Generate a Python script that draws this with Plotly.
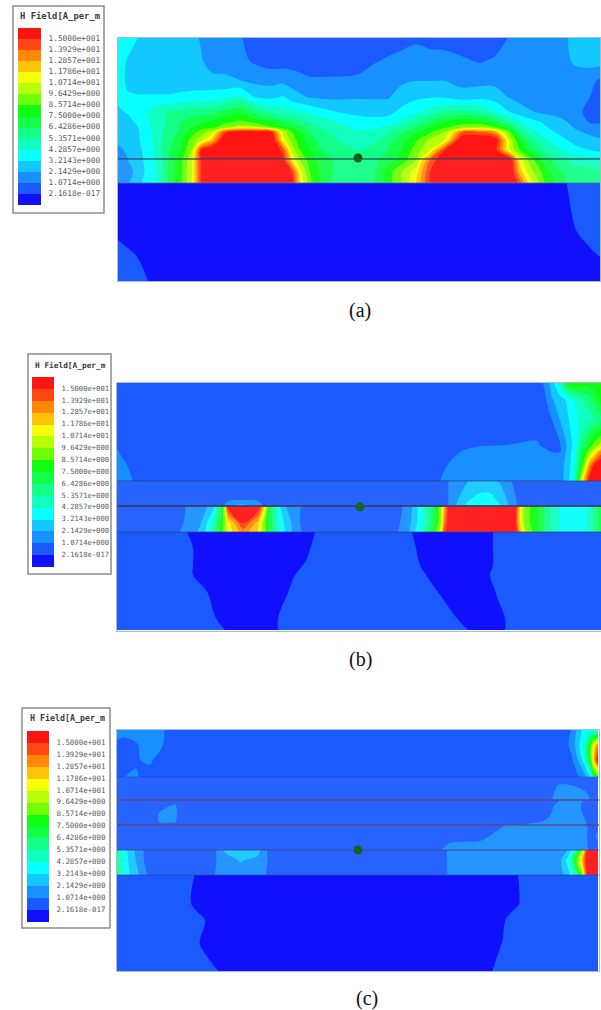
import plotly.graph_objects as go

W, H = 601, 1010

band_colors = ["#1010ff", "#1a5aff", "#1890ff", "#12c8ff", "#08ffff", "#10ffc0", "#14ff88", "#14ff48",
               "#10ff10", "#70ff08", "#b8ff08", "#f4ff08", "#ffc408", "#ff8808", "#ff4810", "#ff1414"]
band_ids = list(range(16))
legend_labels = ["1.5000e+001", "1.3929e+001", "1.2857e+001", "1.1786e+001", "1.0714e+001", "9.6429e+000",
                 "8.5714e+000", "7.5000e+000", "6.4286e+000", "5.3571e+000", "4.2857e+000", "3.2143e+000",
                 "2.1429e+000", "1.0714e+000", "2.1618e-017"]
legend_title = "H Field[A_per_m"
captions = ["(a)", "(b)", "(c)"]

# ---------- panel (a), z in colour-band units
ax1_x = [118,128,138,147,158,170,180,192,201,212,225,240,255,272,283,292,300,310,322,337,358,375,388,402,416,430,445,462,480,495,510,520,530,545,560,575,590,600]
ax1_y = [38,60,80,97,112,122,127,132,140,150,160,172,183]
ax1_z = [
 [4,4,3.5,3,3,3,3,2.8,2.4,2,2,1.6,1,1,1,1,1,1,1,1,1,1,1,1,1.3,1,1,1,1,1,1.6,2,2,2,2,3,3,3],
 [4,3.4,3,3,3,3,3,3,2.6,2,2,1.8,1.3,1,1,1,1,1,1,1,1,1.4,1.6,1.9,2,2,1.9,1.6,1.4,1.6,2,2,2,2,2,2.7,3,3],
 [4,3.3,3,3,3,3,3,3,2.9,2.8,2.7,2.5,2.2,2.1,2.2,2,1.8,1.6,1.6,1.6,1.7,2,2.1,2.3,2.45,2.45,2.45,2.1,2.1,2.2,2,2,2,2,2,2,1.7,1.4],
 [3.8,3.6,3.6,3.6,3.6,3.6,3.7,3.8,3.9,4,4.2,4.7,3.5,3.3,3.6,3,2.7,2.4,2.3,2.3,2.4,2.4,2.4,3,3.3,3.4,3.4,3,3.2,3,2.4,2.1,2,2,2,2,1.5,1.5],
 [3.3,3.6,4,4.5,5.2,5.6,5.8,6,6.1,6.2,6.8,7.3,6.2,5.2,5,4.8,4.6,4.3,3.9,3.5,3.2,3.1,3.2,3.8,4.3,4.9,5.6,5.8,5.5,4.6,3.5,3,2.6,2.3,2.1,1.7,1.3,1.2],
 [3,3.2,3.7,4.3,5,5.8,6.4,6.9,7.3,7.8,8.3,8.7,8.3,7.5,6.8,6.4,6,5.4,5,4.5,4,3.9,4,4.7,5.6,6.6,7.6,8.1,7.8,7,5.5,4.6,4,3.3,2.8,2.2,1.4,1.4],
 [3,3.2,3.5,4.2,5.05,5.9,6.5,7.4,7.9,8.2,9,10,9.8,8.6,7.8,7.2,6.7,5.9,5.3,4.8,4.3,4.3,4.7,5.5,6.4,7.4,8.3,9,9.5,8.5,6.8,5.2,4.5,3.6,3,2.4,1.8,1.8],
 [3,3.2,3.4,4.1,5.1,6,6.7,8,9,10,14.3,15.5,15.5,14.6,10,8.5,7.5,6.5,5.7,5.1,4.6,4.8,5.4,6.3,7.3,8.3,9.5,13.5,13.5,12.5,8.5,6,5,4,3.2,2.7,2.3,2.2],
 [2.9,3,3.4,4,5,6.3,7.2,9,10,12,16,16,16,15.6,11,9,8,7,6,5.5,5,5.3,6,7,8.3,9.7,10.5,15.8,16,15.6,10,7.5,6,4.7,4,3,2.8,2.6],
 [2.1,2.8,3.2,3.9,5,6.5,7.5,9.5,14.6,16,16,16,16,16,14,10,8.5,7.5,6.5,6,5.5,5.8,6.5,7.5,9,10.5,14.5,16,16,15,10.5,8.5,7,5.5,4.6,4,3.5,3.2],
 [2,2.5,3.1,3.8,4.9,6.8,8,10.5,14.6,16,16,16,16,16,15,11.5,9.5,8,7,6.3,6,6.2,7,8,9.5,13.5,16,16,16,16,15.5,11,9,7,5.8,5.1,5,4.9],
 [2,2,3,3.7,4.6,7,8,10.5,14.6,16,16,16,16,16,16,14.5,11,8.5,7.2,6.2,6,6.5,8,9.5,11,14.5,16,16,16,16,16,12,10,8,6.6,6,5.8,5.6],
 [2.2,2.4,3.2,3.9,4.8,7,8.2,10.5,14.6,16,16,16,16,16,16,15,11.5,8.8,7.4,6.1,6,6.5,8,9.5,11.5,14.6,16,16,16,16,16,14,11,8.5,7,6,5.8,5.6],
]
ax2_x = [118,130,148,560,568,576,590,600]
ax2_y = [183,230,240,250,257,281]
ax2_z = [
 [0,0,0,0,0.6,1,1,1],
 [0,0,0,0,0,0.5,1,1],
 [0.5,0,0,0,0,0.2,0.8,1],
 [1,0.5,0,0,0,0,0.4,0.9],
 [1,0.7,0.2,0,0,0,0.2,0.5],
 [1,1,0.5,0,0,0,0,0],
]

# ---------- panel (b)
bx1_x = [117,125,133,420,440,460,477,537,545,552,560,568,575,582,590,595,601]
bx1_y = [383,400,420,445,452,465,481]
bx1_z = [
 [1,1,1,1,1,1,1,1,1.7,3,5,8,8.5,8,8,8,8],
 [1,1,1,1,1,1,1,1,1.3,2.4,3,3.8,4.6,5.5,6,7,8],
 [1,1,1,1,1,1,1,1,1,1.5,2.5,3.4,4.2,4.8,5.2,5.6,6],
 [1.4,1,1,1,1,1,1.4,1.6,1.3,1.2,1.4,2.8,4,6,8,9,10],
 [1.6,1.2,1,1,1,1.5,1.8,1.8,1.7,1.5,1.5,2.9,4.2,7,9.5,11,13],
 [2,1.6,1.2,1,1.2,2,2,2,2,2,2,3,4.5,8,13,15,16],
 [2,2,1.5,1,1.5,2,2,2,2,2,2,3.2,5,11,15.5,16,16],
]
bx2_x = [117,222,228,240,258,264,440,450,457,468,480,490,500,510,518,601]
bx2_y = [481,493,500,506]
bx2_z = [
 [1,1,1,1,1,1,1,1.6,1.8,2.5,2.8,2.8,2.4,1.6,1,1],
 [1,1,1,1,1,1,1,1.6,2.2,3,3.5,3.5,2.9,2,1.2,1],
 [1,1,1.3,1.5,1.3,1,1,1.6,2.4,3.4,4,4,3.2,2.2,1.3,1],
 [1,1.2,2.4,2.9,2.4,1.2,1,1.6,2.6,3.9,4.4,4.4,3.6,2.4,1.4,1],
]
bx3_x = [117,178,187,197,205,213,222,228,243,258,264,270,280,288,295,302,398,406,412,420,430,440,444,450,510,515,519,525,535,550,560,585,601]
bx3_y = [506,523,532]
bx3_z = [
 [1,1,1.6,2,2.2,3,7,15,16,15.5,12,7,3.5,2.2,2,1.4,1.2,1.7,2.5,4,6,9,12,16,16,16,12,9,8,5.5,4.4,4.2,7],
 [1,1.2,1.7,2,3,5,8,11,14.6,12,9,7,4,3,2,1.3,1.4,1.8,2.7,4,6,9,13,16,16,15.5,12,9,8,5.5,4.4,4.2,7],
 [1,1.4,2,2.4,3.5,6,8,11,13,11.5,9.5,7,4.4,3,2,1.5,1.5,2,3,4.5,7,10,14,16,16,16,13,10,8,5.5,4.4,4.2,7],
]
bx4_x = [117,180,187,193,225,278,295,307,315,322,405,412,420,438,468,490,493,497,505,512,601]
bx4_y = [532,548,565,575,592,618,630]
bx4_z = [
 [1,1,0.5,0,0,0,0,0,0.5,1,1,0.5,0,0,0,0,0.5,1,1,1,1],
 [1,1,1,0.5,0,0,0,0.2,0.9,1,1,0.75,0.25,0,0,0,0.5,1,1,1,1],
 [1,1,1,0.5,0,0,0.1,0.7,1,1,1,1,0.5,0,0,0,0.5,1,1,1,1],
 [1,1,1,0.5,0.1,0.1,0.5,1,1,1,1,1,0.7,0.1,0,0.5,0.8,1,1,1,1],
 [1,1,1,0.9,0,0.2,0.7,1,1,1,1,1,1,0.5,0,0.1,0.3,0.6,1,1,1],
 [1,1,1,1,0.3,0.5,1,1,1,1,1,1,1,1,0.2,0,0,0.1,0.5,1,1],
 [1,1,1,1,0.5,0.5,1,1,1,1,1,1,1,1,0.5,0,0,0,0.5,1,1],
]

# ---------- panel (c)
cx1_x = [117,125,136,150,161,168,565,572,578,584,590,594,598]
cx1_y = [730,745,760,777]
cx1_z = [
 [2,2,2,2,1.8,1.2,1,1.6,2.8,3.8,4,4,4],
 [1.2,1,1.4,2,1.7,1,1.2,1.8,3.2,4.5,8,11,13],
 [1.2,1,1.4,1.7,1,1,1,1.4,2.5,4,7.5,12,15.5],
 [1.3,1.5,1.6,1,1,1,1,1,1.4,2,3.5,7,8],
]
cx2_x = [117,550,558,570,590,598]
cx2_y = [777,785,792,800]
cx2_z = [
 [1,1,1,1,1,1],
 [1,1,1.5,1.5,1,1],
 [1,1.1,1.8,1.9,1.4,1],
 [1,1.4,1.8,1.9,1.5,1],
]
cx3_x = [117,155,160,175,180,515,525,545,558,565,578,588,598]
cx3_y = [800,805,815,822,825]
cx3_z = [
 [1,1,1,1,1,1,1,1,1.4,2,1.9,1.1,1],
 [1,1,1.1,1.6,1.1,1,1,1,1.7,2,1.7,1,1],
 [1,1.1,1.7,1.8,1,1,1,1.2,1.9,2,1.8,1.2,1],
 [1,1.3,1.6,1.6,1,1,1.2,1.6,2,2,2,1.4,1.2],
 [1,1,1,1,1,1.2,1.6,2,2,2,2,1.4,1.4],
]
cx4_x = [117,440,450,465,480,505,583,590,598]
cx4_y = [825,835,843,850]
cx4_z = [
 [1,1,1,1,1,1.5,1.7,1.4,1.3],
 [1,1,1,1,1.2,1.9,2,1.2,1.6],
 [1,1,1.5,1.6,1.6,2,2,1.2,1.5],
 [1,1.4,2,2,2,2,2,1.3,1.2],
]
cx5_x = [117,122,130,139,148,212,218,225,240,258,265,270,445,450,560,568,575,582,587,598]
cx5_y = [850,860,875]
cx5_z = [
 [6,4.5,3,2,1,1,1.7,2.7,3.4,2.9,1.7,1.2,1.2,2,2,2.5,5,9,15,16],
 [6,4.5,3.2,2.1,1,1,1.7,2,2.6,2.2,1.8,1.2,1.2,2,2.2,4,7.5,12,15.5,16],
 [6,5,3.4,2.5,1.4,1.2,1.8,2,2,2,1.6,1,1,2,2,3,5,9,14.6,16],
]
cx6_x = [117,185,191,197,205,218,225,490,497,503,510,518,525,598]
cx6_y = [875,903,920,943,971]
cx6_z = [
 [1,1,0.8,0.3,0.1,0,0,0,0,0,0,0.5,1,1],
 [1,1,0.5,0.2,0,0,0,0,0,0,0,0.4,0.9,1],
 [1,1,1,0.8,0.5,0.1,0,0,0,0.35,0.8,1,1,1],
 [1,1,1,0.65,0.2,0,0,0,0.3,0.55,0.8,1,1,1],
 [1,1,1,1,1,0.5,0.1,0.4,0.7,1,1,1,1,1],
]

# ---------- thin layer lines and the centre dots
a_lines = [159, 183]
b_lines = [481, 506, 532]
c_lines = [777, 800, 825, 850, 875]
dots_x = [358, 360, 358]
dots_y = [158, 507, 850]
veil_spans = [(159, 183), (481, 532), (777, 875)]

# ---------- rectangles in page pixels
panel_rects = [(118, 38, 600, 281), (117, 383, 601, 631), (117, 730, 599, 971)]
legend_boxes = [(13, 6, 104, 213), (28, 354, 111, 574), (22, 708, 110, 928)]
legend_bars = [(18, 28, 41, 205), (32, 377, 54, 567), (27, 731, 49, 922)]
label_sizes = [7.8, 7.2, 7.4]
title_sizes = [8.9, 7.8, 8.3]
title_y = [16, 365, 718]
caption_pos = [(360, 310), (360, 659), (367, 998)]

scale = []
for i, c in enumerate(band_colors):
    scale += [[i / 16, c], [(i + 1) / 16, c]]

fig = go.Figure()

def layer(x, y, z, n):
    fig.add_trace(go.Contour(x=x, y=y, z=z, xaxis=f"x{n}", yaxis=f"y{n}", colorscale=scale, zmin=-0.5, zmax=15.5,
                             autocontour=False, contours=dict(start=0.5, end=14.5, size=1, coloring="fill", showlines=False),
                             line=dict(width=0), showscale=False, hoverinfo="skip"))

for x, y, z in [(ax1_x, ax1_y, ax1_z), (ax2_x, ax2_y, ax2_z)]:
    layer(x, y, z, 1)
for x, y, z in [(bx1_x, bx1_y, bx1_z), (bx2_x, bx2_y, bx2_z), (bx3_x, bx3_y, bx3_z), (bx4_x, bx4_y, bx4_z)]:
    layer(x, y, z, 2)
for x, y, z in [(cx1_x, cx1_y, cx1_z), (cx2_x, cx2_y, cx2_z), (cx3_x, cx3_y, cx3_z), (cx4_x, cx4_y, cx4_z),
                (cx5_x, cx5_y, cx5_z), (cx6_x, cx6_y, cx6_z)]:
    layer(x, y, z, 3)

line_style = [
    ([(a_lines[0], "rgba(45,60,110,0.85)", 1.5), (a_lines[1], "rgba(70,110,130,0.8)", 1)], 1),
    ([(b_lines[0], "rgba(40,60,120,0.8)", 1), (b_lines[1], "rgba(50,50,90,0.9)", 2), (b_lines[2], "rgba(40,60,110,0.8)", 1)], 2),
    ([(c_lines[0], "rgba(30,70,190,0.6)", 1), (c_lines[1], "rgba(95,50,100,0.85)", 1.5), (c_lines[2], "rgba(95,50,100,0.85)", 1.5),
      (c_lines[3], "rgba(60,60,110,0.85)", 1.2), (c_lines[4], "rgba(40,60,150,0.7)", 1)], 3),
]
for specs, n in line_style:
    r = panel_rects[n - 1]
    for yv, col, wd in specs:
        fig.add_trace(go.Scatter(x=[r[0], r[2]], y=[yv, yv], mode="lines", line=dict(color=col, width=wd),
                                 xaxis=f"x{n}", yaxis=f"y{n}", showlegend=False, hoverinfo="skip"))
for n in range(3):
    fig.add_trace(go.Scatter(x=[dots_x[n]], y=[dots_y[n]], mode="markers",
                             marker=dict(color="#0b5a1c", size=9, line=dict(width=0)),
                             xaxis=f"x{n+1}", yaxis=f"y{n+1}", showlegend=False, hoverinfo="skip"))

layout = dict(width=W, height=H, margin=dict(l=0, r=0, t=0, b=0), paper_bgcolor="white", plot_bgcolor="white",
              showlegend=False)

def dom(a, b, total):
    return [a / total, b / total]

for n, r in enumerate(panel_rects, start=1):
    sx = "" if n == 1 else str(n)
    layout[f"xaxis{sx}"] = dict(domain=dom(r[0], r[2], W), range=[r[0], r[2]], showgrid=False, zeroline=False,
                                showticklabels=False, ticks="", showline=True, mirror=True, linecolor="#a9bcd0", linewidth=1,
                                anchor=f"y{sx}")
    layout[f"yaxis{sx}"] = dict(domain=[1 - r[3] / H, 1 - r[1] / H], range=[r[3], r[1]], showgrid=False, zeroline=False,
                                showticklabels=False, ticks="", showline=True, mirror=True, linecolor="#a9bcd0", linewidth=1,
                                anchor=f"x{sx}")

shapes, annotations = [], []
for n, (r, span) in enumerate(zip(panel_rects, veil_spans), start=1):
    sx = "" if n == 1 else str(n)
    shapes.append(dict(type="rect", xref=f"x{sx}", yref=f"y{sx}", x0=r[0], x1=r[2], y0=span[0], y1=span[1],
                       fillcolor="rgba(255,255,255,0.06)", line=dict(width=0), layer="above"))
for k, (box, bar) in enumerate(zip(legend_boxes, legend_bars)):
    n = k + 4
    fig.add_trace(go.Heatmap(x=[bar[0], bar[2]], y=[i - 0.5 for i in range(17)], z=[[b] for b in band_ids],
                             colorscale=scale, zmin=-0.5, zmax=15.5, showscale=False, hoverinfo="skip",
                             xaxis=f"x{n}", yaxis=f"y{n}"))
    label_y = [i + 0.5 for i in range(15)][::-1]
    fig.add_trace(go.Scatter(x=[bar[2] + 7.5] * 15, y=label_y, mode="text", text=legend_labels, textposition="middle right",
                             textfont=dict(family="DejaVu Sans Mono", size=label_sizes[k], color="#5a5a5a"),
                             cliponaxis=False, xaxis=f"x{n}", yaxis=f"y{n}", showlegend=False, hoverinfo="skip"))
    layout[f"xaxis{n}"] = dict(domain=dom(bar[0], box[2], W), range=[bar[0], box[2]], visible=False, anchor=f"y{n}")
    layout[f"yaxis{n}"] = dict(domain=[1 - bar[3] / H, 1 - bar[1] / H], range=[-0.5, 15.5], visible=False, anchor=f"x{n}")
    shapes.append(dict(type="rect", xref="paper", yref="paper", x0=box[0] / W, x1=box[2] / W, y0=1 - box[3] / H, y1=1 - box[1] / H,
                       line=dict(color="#8c8c8c", width=1.5), fillcolor="rgba(0,0,0,0)", layer="below"))
    annotations.append(dict(xref="paper", yref="paper", x=((box[0] + box[2]) / 2 + 1) / W, y=1 - title_y[k] / H, showarrow=False,
                            text=f"<b>{legend_title}</b>", xanchor="center", yanchor="middle",
                            font=dict(family="DejaVu Sans Mono", size=title_sizes[k], color="#3a3a3a")))
    annotations.append(dict(xref="paper", yref="paper", x=caption_pos[k][0] / W, y=1 - caption_pos[k][1] / H, showarrow=False,
                            text=captions[k], xanchor="center", yanchor="middle",
                            font=dict(family="Liberation Serif", size=20, color="#111111")))

layout["shapes"] = shapes
layout["annotations"] = annotations
fig.update_layout(**layout)
fig.write_html("out.html", config={"displayModeBar": False},
               post_script="document.body.style.margin='0';document.body.style.overflow='hidden';")
